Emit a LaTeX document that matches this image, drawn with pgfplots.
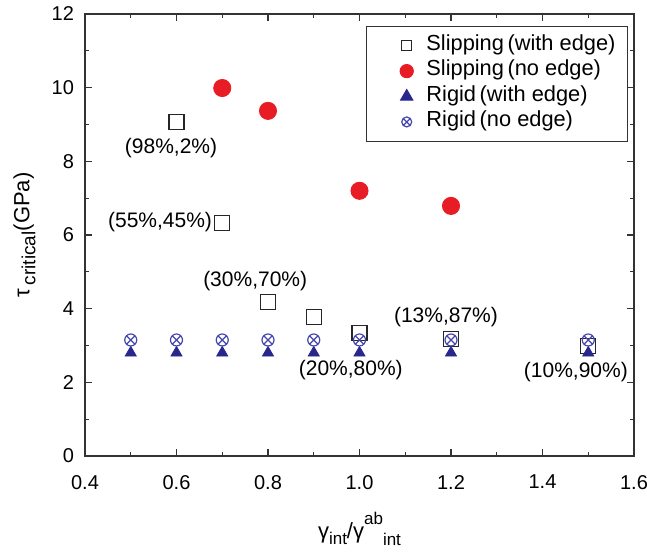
\documentclass[border=0pt]{standalone}
\usepackage{pgfplots}
\pgfplotsset{compat=1.18}
\usepackage{fontspec}
\setmainfont{Liberation Sans}
\definecolor{redpt}{RGB}{232,28,36}
\definecolor{navy}{RGB}{40,40,140}
\definecolor{lblue}{RGB}{70,70,175}
\newcommand{\sub}[2][-3pt]{\raisebox{#1}{\fontsize{8.5}{9}\selectfont #2}}
\begin{document}
\begin{tikzpicture}
\begin{axis}[
    scale only axis,
    width=274.5pt, height=221pt,
    xmin=0.4, xmax=1.6, ymin=0, ymax=12,
    xtick={0.4,0.6,...,1.6},
    ytick={0,2,...,12},
    minor x tick num=1, minor y tick num=1,
    tick align=inside,
    major tick length=3.5pt, minor tick length=2pt,
    tick style={black!80, line width=0.6pt},
    axis line style={black!80, line width=0.8pt},
    /pgf/number format/assume math mode=true,
    ticklabel style={font=\fontsize{10}{12}\selectfont},
    xticklabel style={yshift=-6pt, /pgf/number format/fixed,
        /pgf/number format/fixed zerofill, /pgf/number format/precision=1},
    yticklabel style={xshift=-2pt},
    xlabel={γ\sub{int}/γ\sub[7pt]{ab}\sub[-3.5pt]{int}},
    ylabel={τ\,\raisebox{-3pt}{\fontsize{9.5}{10}\selectfont critical}(GPa)},
    label style={font=\fontsize{11}{13}\selectfont},
    xlabel style={at={(axis description cs:0.5,-0.164)}, anchor=center},
    ylabel style={at={(axis description cs:-0.11,0.5)}, anchor=center},
    legend style={at={(0.989,0.973)}, anchor=north east, draw=black!80, line width=0.5pt,
        font=\fontsize{10.9}{13}\selectfont, row sep=0pt, column sep=0pt,
        inner xsep=6pt, inner ysep=3.3pt,
        nodes={inner sep=0pt, text height=8.6pt, text depth=4.1pt}},
    legend cell align=left,
    legend image code/.code={
        \path (0pt,0pt) (23.5pt,0pt);
        \draw[#1] plot coordinates {(14pt,0pt)};
    },
]
\addplot[only marks, mark=square, mark size=3.75pt, black!85, line width=0.7pt,
    legend image post style={mark size=2.5pt}] coordinates {
    (0.6,9.06) (0.7,6.32) (0.8,4.18) (0.9,3.78) (1.0,3.34) (1.2,3.18) (1.5,2.99)
};
\addlegendentry{Slipping\,(with edge)}
\addplot[only marks, mark=*, mark size=4.3pt, redpt, mark options={fill=redpt, draw=redpt},
    legend image post style={mark size=3.3pt}] coordinates {
    (0.7,9.99) (0.8,9.37) (1.0,7.2) (1.2,6.79)
};
\addlegendentry{Slipping\,(no edge)}
\addplot[only marks, mark=triangle*, mark size=3.2pt, navy, mark options={fill=navy, draw=navy},
    legend image post style={mark size=3.5pt}] coordinates {
    (0.5,2.8) (0.6,2.8) (0.7,2.8) (0.8,2.8) (0.9,2.8) (1.0,2.8) (1.2,2.8) (1.5,2.8)
};
\addlegendentry{Rigid\,(with edge)}
\addplot[only marks, mark=otimes, mark size=3pt, lblue, line width=0.6pt,
    legend image post style={mark size=2.5pt}] coordinates {
    (0.5,3.15) (0.6,3.15) (0.7,3.15) (0.8,3.15) (0.9,3.15) (1.0,3.15) (1.2,3.15) (1.5,3.15)
};
\addlegendentry{Rigid\,(no edge)}
\begin{scope}[every node/.style={font=\fontsize{10.5}{12}\selectfont}]
\node at (axis cs:0.588,8.36) {(98\%,2\%)};
\node at (axis cs:0.564,6.35) {(55\%,45\%)};
\node at (axis cs:0.772,4.74) {(30\%,70\%)};
\node at (axis cs:0.981,2.32) {(20\%,80\%)};
\node at (axis cs:1.189,3.76) {(13\%,87\%)};
\node at (axis cs:1.473,2.27) {(10\%,90\%)};
\end{scope}
\end{axis}
\pgfresetboundingbox
\path (current axis.south west) ++(-42.5pt,-47.5pt) rectangle ([shift={(6.5pt,7pt)}]current axis.north east);
\end{tikzpicture}
\end{document}
